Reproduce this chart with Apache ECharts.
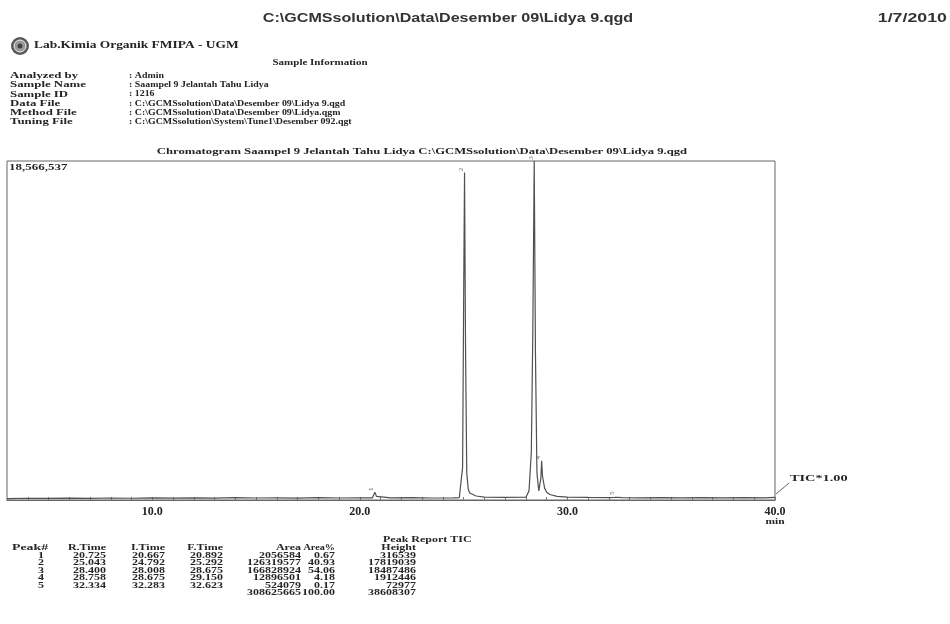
<!DOCTYPE html>
<html>
<head>
<meta charset="utf-8">
<title>Chromatogram Saampel 9 Jelantah Tahu Lidya</title>
<script src="https://cdn.jsdelivr.net/npm/echarts@6/dist/echarts.min.js"></script>
<style>
html,body{margin:0;padding:0;background:#fff;}
#chart{width:950px;height:624px;}
</style>
</head>
<body>
<div id="chart"></div>
<script>
// TIC trace (min / counts)
var traceTime = [3.0,4.0,5.0,6.0,7.0,8.0,9.0,10.0,11.0,12.0,13.0,14.0,15.0,16.0,17.0,18.0,19.0,20.0,
  20.6,20.667,20.725,20.8,20.892,21.5,22.5,23.5,24.5,24.792,24.95,25.0,25.043,25.09,25.15,25.22,25.292,
  25.6,26.0,27.0,28.0,28.15,28.26,28.33,28.4,28.46,28.53,28.62,28.675,28.72,28.758,28.8,28.9,29.0,29.15,
  29.5,30.0,31.0,32.0,32.283,32.334,32.4,32.623,33.5,34.5,35.5,36.5,37.5,38.5,39.5,40.0];
var traceTIC = [80000,95000,85000,100000,90000,110000,95000,115000,100000,120000,105000,125000,110000,120000,105000,125000,110000,120000,
  115000,160000,430000,200000,130000,115000,125000,110000,120000,135000,1800000,11000000,17940000,8500000,1500000,600000,380000,
  220000,160000,140000,150000,500000,2600000,9000000,18566537,8000000,1500000,500000,460000,1200000,2150000,1300000,650000,420000,300000,
  200000,160000,140000,130000,140000,210000,150000,130000,120000,135000,120000,130000,115000,130000,120000,140000];

// Peak Report TIC
var peakNo = [1,2,3,4,5];
var rTime = [20.725,25.043,28.400,28.758,32.334];
var iTime = [20.667,24.792,28.008,28.675,32.283];
var fTime = [20.892,25.292,28.675,29.150,32.623];
var area = [2056584,126319577,166828924,12896501,524079];
var areaPct = [0.67,40.93,54.06,4.18,0.17];
var height = [316539,17819039,18487486,1912446,72977];
var totalArea = 308625665, totalPct = 100.00, totalHeight = 38608307;

var xLabels = [10,20,30,40];
var yMax = 18566537;

var infoLabels = ['Analyzed by','Sample Name','Sample ID','Data File','Method File','Tuning File'];
var infoValues = ['Admin','Saampel 9 Jelantah Tahu Lidya','1216',
  'C:\\GCMSsolution\\Data\\Desember 09\\Lidya 9.qgd',
  'C:\\GCMSsolution\\Data\\Desember 09\\Lidya.qgm',
  'C:\\GCMSsolution\\System\\Tune1\\Desember 092.qgt'];

var serif = '"Liberation Serif", "DejaVu Serif", serif';
var sans = '"Liberation Sans", Arial, sans-serif';
var ink = '#242424';

function txt(x, y, s, o) {
  o = o || {};
  return {
    type: 'text', x: x, y: y, silent: true,
    scaleX: o.sx || 1, scaleY: o.sy || 0.8,
    style: {
      text: s, fill: o.color || ink,
      fontFamily: o.family || serif, fontSize: o.size || 11,
      fontWeight: o.weight || 'bold',
      align: o.align || 'left', textAlign: o.align || 'left',
      verticalAlign: 'middle', textVerticalAlign: 'middle'
    }
  };
}

var chart = echarts.init(document.getElementById('chart'));

var trace = traceTime.map(function (t, i) { return [t, traceTIC[i]]; });
var marks = rTime.map(function (t, i) {
  return [t, traceTIC[traceTime.indexOf(t)], peakNo[i]];
});

var g = [];
g.push(txt(448, 18, 'C:\\GCMSsolution\\Data\\Desember 09\\Lidya 9.qgd', {family: sans, size: 14, align: 'center', sx: 1.15, sy: 0.95, color: '#333'}));
g.push(txt(947, 18, '1/7/2010', {family: sans, size: 14, align: 'right', sx: 1.27, sy: 0.95, color: '#333'}));
// logo
g.push({type: 'circle', shape: {cx: 20, cy: 46, r: 9}, style: {fill: '#5a5a5a'}, silent: true});
g.push({type: 'circle', shape: {cx: 20, cy: 46, r: 6}, style: {fill: '#9a9a9a', stroke: '#eee', lineWidth: 1}, silent: true});
g.push({type: 'circle', shape: {cx: 20, cy: 46, r: 2.5}, style: {fill: '#444'}, silent: true});
g.push(txt(34, 46, 'Lab.Kimia Organik FMIPA - UGM', {size: 12, sx: 1.12}));
g.push(txt(320, 63, 'Sample Information', {size: 11, align: 'center'}));
infoLabels.forEach(function (l, i) {
  var y = 76 + i * 9.2;
  g.push(txt(10, y, l, {size: 12, sx: 1.07, sy: 0.72}));
  g.push(txt(129, y, ': ' + infoValues[i], {size: 11, sx: 0.9, sy: 0.72}));
});
g.push(txt(422, 152, 'Chromatogram Saampel 9 Jelantah Tahu Lidya C:\\GCMSsolution\\Data\\Desember 09\\Lidya 9.qgd', {size: 11, sx: 1.15, align: 'center', sy: 0.75}));
g.push(txt(9, 168, yMax.toLocaleString('en-US'), {size: 11, sx: 1.18, sy: 0.8}));
g.push({type: 'line', shape: {x1: 776, y1: 494, x2: 789, y2: 483}, style: {stroke: '#666', lineWidth: 1}, silent: true});
g.push(txt(790, 479, 'TIC*1.00', {size: 11, sx: 1.3, sy: 0.8}));
g.push(txt(775, 522, 'min', {size: 10, sx: 1.15, align: 'center', sy: 0.8}));

// peak table
var cols = [44, 106, 165, 223, 301, 335, 416];
var tsz = 12, tsy = 0.6;
g.push(txt(383, 540, 'Peak Report TIC', {size: tsz, sy: 0.7}));
g.push(txt(12, 548, 'Peak#', {size: tsz, sx: 1.15, sy: tsy}));
['R.Time','I.Time','F.Time','Area','Area%','Height'].forEach(function (h, j) {
  g.push(txt(cols[j + 1], 548, h, {size: tsz, sx: h === 'Area%' ? 0.85 : 1, sy: tsy, align: 'right'}));
});
peakNo.forEach(function (p, i) {
  var y = 556 + i * 7.5;
  var row = [String(p), rTime[i].toFixed(3), iTime[i].toFixed(3), fTime[i].toFixed(3),
    String(area[i]), areaPct[i].toFixed(2), String(height[i])];
  row.forEach(function (v, j) {
    g.push(txt(cols[j], y, v, {size: tsz, sy: tsy, align: 'right'}));
  });
});
g.push(txt(cols[4], 593.5, String(totalArea), {size: tsz, sy: tsy, align: 'right'}));
g.push(txt(cols[5], 593.5, totalPct.toFixed(2), {size: tsz, sy: tsy, align: 'right'}));
g.push(txt(cols[6], 593.5, String(totalHeight), {size: tsz, sy: tsy, align: 'right'}));

var ticks = [];
for (var t = 4; t <= 40; t++) ticks.push(t);

chart.setOption({
  backgroundColor: '#fff',
  animation: false,
  grid: {left: 7, right: 175, top: 161, bottom: 124, show: true, borderColor: '#666', borderWidth: 1, containLabel: false},
  xAxis: {
    type: 'value', min: 3, max: 40,
    axisLine: {show: true, lineStyle: {color: '#666'}},
    axisTick: {show: true, inside: true, length: 3, customValues: ticks, lineStyle: {color: '#777'}},
    axisLabel: {
      customValues: xLabels, margin: 6, color: ink,
      fontFamily: serif, fontSize: 12, fontWeight: 'bold',
      formatter: function (v) { return v.toFixed(1); }
    },
    splitLine: {show: false}
  },
  yAxis: {type: 'value', min: 0, max: yMax, show: false},
  graphic: g,
  series: [
    {
      type: 'line', data: trace, showSymbol: false, symbol: 'none',
      lineStyle: {color: '#505050', width: 1.2}
    },
    {
      type: 'scatter', data: marks, symbolSize: 0,
      label: {
        show: true, position: 'top', distance: 3, rotate: 90,
        fontSize: 7, color: '#444', fontFamily: serif,
        formatter: function (p) { return String(p.value[2]); }
      }
    }
  ]
});
</script>
</body>
</html>
